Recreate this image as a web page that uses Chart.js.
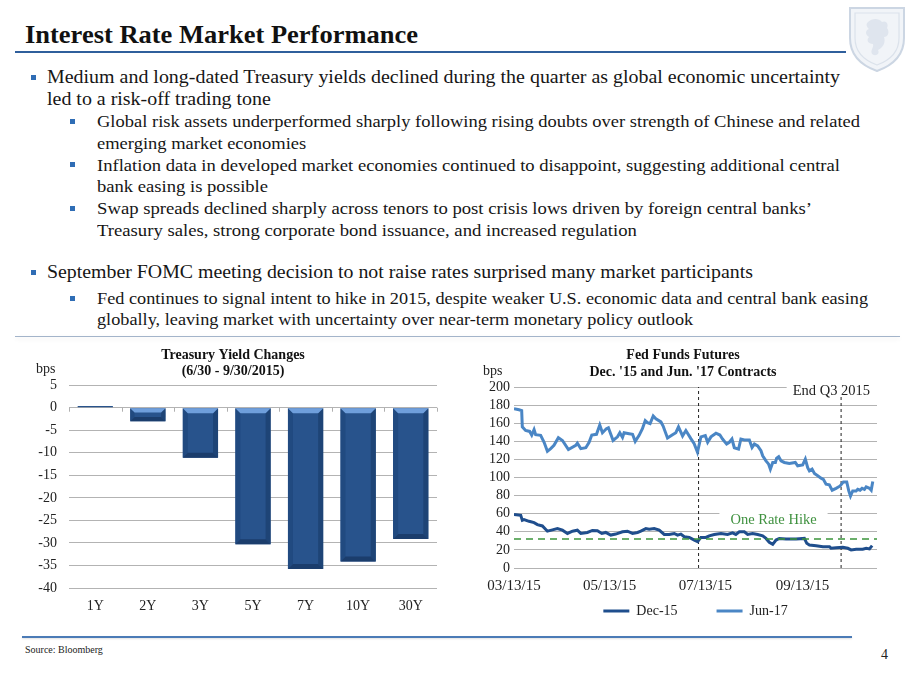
<!DOCTYPE html>
<html>
<head>
<meta charset="utf-8">
<script src="https://cdn.jsdelivr.net/npm/chart.js@4.4.0/dist/chart.umd.min.js"></script>
<style>
html,body{margin:0;padding:0;background:#fff;}
body{width:920px;height:690px;position:relative;overflow:hidden;font-family:"Liberation Serif","Times New Roman",serif;color:#161616;}
.ln{position:absolute;white-space:nowrap;transform-origin:0 50%;display:inline-block;}
.t{font-weight:bold;font-size:24.5px;line-height:30px;color:#111;}
.m{font-size:18.6px;line-height:22px;}
.s{font-size:17.4px;line-height:22px;}
.b{position:absolute;background:#2f6db5;width:5px;height:5px;}
#cL{position:absolute;left:0;top:340px;}
#cR{position:absolute;left:460px;top:340px;}
</style>
</head>
<body>
<div class="ln t" style="left:25px;top:19.7px" data-w="393" data-id="t">Interest Rate Market Performance</div>
<div style="position:absolute;left:15px;top:51px;width:831px;height:2px;background:#2f5f9c"></div>
<svg style="position:absolute;left:846px;top:4px" width="62" height="70" viewBox="0 0 62 70">
  <path d="M4 4 H58 V34 C58 52 45 62 31 67 C17 62 4 52 4 34 Z" fill="#f1f4f8" stroke="#ccd6e3" stroke-width="2"/>
  <path d="M9 9 H53 V34 C53 49 42 57 31 61 C20 57 9 49 9 34 Z" fill="none" stroke="#dbe2eb" stroke-width="1.2"/>
  <path d="M22 18 C26 14 33 14 36 18 C40 16 43 20 41 24 C44 28 42 33 38 33 C40 38 37 44 32 46 C34 50 30 53 26 50 C24 46 28 44 27 40 C22 40 20 36 23 33 C19 31 19 26 23 25 C20 22 20 20 22 18 Z" fill="#dfe5ee"/>
</svg>

<div class="b" style="left:31px;top:74.5px"></div>
<div class="ln m" style="left:47px;top:66px" data-w="793" data-id="m1">Medium and long-dated Treasury yields declined during the quarter as global economic uncertainty</div>
<div class="ln m" style="left:47px;top:87.5px" data-g="m1">led to a risk-off trading tone</div>

<div class="b" style="left:70px;top:118.5px"></div>
<div class="ln s" style="left:97px;top:110px" data-w="763" data-id="s1">Global risk assets underperformed sharply following rising doubts over strength of Chinese and related</div>
<div class="ln s" style="left:97px;top:131.5px" data-g="s1">emerging market economies</div>

<div class="b" style="left:70px;top:162px"></div>
<div class="ln s" style="left:97px;top:153.5px" data-w="743" data-id="s2">Inflation data in developed market economies continued to disappoint, suggesting additional central</div>
<div class="ln s" style="left:97px;top:175px" data-g="s2">bank easing is possible</div>

<div class="b" style="left:70px;top:205.5px"></div>
<div class="ln s" style="left:97px;top:197px" data-w="715" data-id="s3">Swap spreads declined sharply across tenors to post crisis lows driven by foreign central banks’</div>
<div class="ln s" style="left:97px;top:218.5px" data-g="s3">Treasury sales, strong corporate bond issuance, and increased regulation</div>

<div class="b" style="left:31px;top:269.5px"></div>
<div class="ln m" style="left:47px;top:261px" data-w="706" data-id="m2">September FOMC meeting decision to not raise rates surprised many market participants</div>

<div class="b" style="left:70px;top:295.5px"></div>
<div class="ln s" style="left:97px;top:286.5px" data-w="771" data-id="s4">Fed continues to signal intent to hike in 2015, despite weaker U.S. economic data and central bank easing</div>
<div class="ln s" style="left:97px;top:307.5px" data-g="s4">globally, leaving market with uncertainty over near-term monetary policy outlook</div>

<div style="position:absolute;left:15px;top:336px;width:885px;height:1px;background:#a3b4ca;box-shadow:0 2px 4px rgba(0,0,0,0.10)"></div>

<canvas id="cL" width="460" height="280"></canvas>
<canvas id="cR" width="460" height="288"></canvas>

<div style="position:absolute;left:22px;top:636px;width:830px;height:2px;background:#4b7bb6;box-shadow:0 1px 2px rgba(0,0,0,0.12)"></div>
<div class="ln" style="left:25px;top:644px;font-size:10px;line-height:12px;color:#222">Source: Bloomberg</div>
<div class="ln" style="left:881px;top:647px;font-size:14px;line-height:16px;color:#222">4</div>

<script>
// ---------- Treasury Yield Changes (6/30 - 9/30/2015), bps ----------
const treasuryTenors = ['1Y', '2Y', '3Y', '5Y', '7Y', '10Y', '30Y'];
const treasuryChangesBps = [0.4, -3.0, -11.1, -30.3, -35.8, -34.1, -29.1];

// ---------- Fed Funds Futures (day offset from 03/13/15, bps) ----------
const dec15Days = [0,4.3,5.3,6.4,9.6,12.8,14.9,18.1,21.3,24.5,27.7,30.9,34.1,37.3,40.4,42.6,46.8,50,53.2,56,58.5,61.7,64.9,69.2,72.4,75.6,78.8,80.9,84.1,86.2,89.4,92.6,95.8,99,102.2,104.3,106.4,108.6,111.8,115,117.1,119.2,122.4,124.5,127.7,132,136.2,139.4,141.5,143.7,146.9,149,152.2,155.4,158.6,160.7,162.8,165,167.1,169.2,173.5,179.9,185.2,186.7,188.4,192.7,197,201.2,202.2,205.4,209.7,212.9,215,218.2,222.4,224.6,226.7,228.4];
const dec15Bps = [59.3,58.2,52.7,53.5,51.6,50.2,48,46.5,40.7,42.2,43.6,41.8,38.2,40.7,41.8,38.2,39.3,41.5,41.1,38.2,39.3,36.4,37.5,40,40.7,38.2,39.3,40.7,43.6,42.9,43.6,41.8,37.1,37.1,38.2,36.4,37.5,34.5,33.8,30.9,29.1,33.8,33.8,35.6,37.1,38.2,37.1,38.9,37.1,40,40,37.1,38.2,37.1,35.6,32.7,28.4,26.2,30.9,32.7,32,32,32.7,27.3,25.5,24.7,23.6,23.6,21.8,22.5,22.9,21.8,20,20.7,20.7,21.8,21.1,24.7];

const jun17Days = [0,3.2,4.9,5.3,6.4,7.4,10,11.3,12.8,13.8,17,19.2,21.3,23.4,25.5,28.3,30.9,34.7,39.4,40.4,42.6,45.8,47.9,49.6,52.6,54.7,56.4,58.9,60.2,63.2,66,67.5,69.2,70.2,73.4,75.6,77.3,79.8,81.9,83.7,85.1,86.8,88.8,90.5,93.7,95.1,97.9,101.1,103.2,104.9,107.5,109.6,112.8,114.9,117,119.2,122,123.5,125.6,128.8,131.3,133,135.6,137.3,139,140.5,143.2,144.7,146.9,150.1,151.8,153.3,155.4,157.5,158.6,160.7,162.4,163.5,165,166.7,167.5,168.8,170.3,172.4,175.6,179.4,180.9,184.1,185.8,187.3,188.4,190.1,191.6,193.7,195.8,197.3,199,201.1,202.9,205.4,208,210.1,212.2,213.5,214.6,216,218.2,219.2,220.7,222,223.5,224.6,226.7,227.8,228.8];
const jun17Bps = [176,175,174,156,154,152,151,147,153,147.4,146.7,139,129,132,135.6,144,141,131,135.6,138,132,133,139,147,147.8,158,149.6,154,155,141,145,149.6,144.4,149.6,148.5,147.8,140,146.7,154,163,160.7,159.6,168,165,161.5,157,143.7,147.4,149.6,156,146,152,143,137.4,128,145,146.3,139,145,149,147,142.6,137,139,142.6,133,131.5,142.6,141.5,141.5,133.3,137,135,129.6,124,118.5,114.8,109.3,116.7,116.7,121.5,123,118.5,116.7,115.6,116.7,113,114,120.4,111,107.4,109.3,104.4,101.9,99.3,98,92.6,91.9,86,88.1,90.7,95.2,95.2,85.2,79.6,85.2,85.2,87,86,88.1,87,89.6,88.1,86,95.6];

const xTickDays = [0, 61, 122, 184];
const xTickLabels = ['03/13/15', '05/13/15', '07/13/15', '09/13/15'];
const oneRateHikeBps = 32;
const markerDays = [117.7, 208.6];     // dashed vertical markers
const markerTops = [200, 189];
const xDayMin = 0, xDayMax = 231.5;

// ---------- text fitting ----------
(function fit(){
  const g = {};
  document.querySelectorAll('.ln[data-w]').forEach(el => {
    const s = parseFloat(el.dataset.w) / el.getBoundingClientRect().width;
    g[el.dataset.id] = s; el.style.transform = 'scaleX(' + s + ')';
  });
  document.querySelectorAll('.ln[data-g]').forEach(el => {
    el.style.transform = 'scaleX(' + g[el.dataset.g] + ')';
  });
})();

Chart.defaults.font.family = "'Liberation Serif', 'Times New Roman', serif";
Chart.defaults.color = '#222';

const serif = "'Liberation Serif', 'Times New Roman', serif";

const bpsLabel = {
  id: 'bpsLabel',
  afterDraw(chart, args, opts) {
    const ctx = chart.ctx, a = chart.chartArea;
    ctx.save();
    ctx.font = '14px ' + serif; ctx.fillStyle = '#222';
    ctx.textAlign = 'left'; ctx.textBaseline = 'middle';
    ctx.fillText('bps', a.left + opts.dx, a.top + opts.dy);
    ctx.restore();
  }
};

const bevel = {
  id: 'bevel',
  afterDatasetsDraw(chart) {
    const ctx = chart.ctx;
    const meta = chart.getDatasetMeta(0);
    const poly = (pts, c) => { ctx.beginPath(); ctx.moveTo(pts[0][0], pts[0][1]); for (let i = 1; i < pts.length; i++) ctx.lineTo(pts[i][0], pts[i][1]); ctx.closePath(); ctx.fillStyle = c; ctx.fill(); };
    ctx.save();
    meta.data.forEach(bar => {
      const p = bar.getProps(['x', 'y', 'base', 'width'], true);
      const l = p.x - p.width / 2, r = p.x + p.width / 2;
      const t = Math.min(p.y, p.base), b = Math.max(p.y, p.base);
      const h = b - t;
      if (h < 6) return;
      const e = Math.min(5, h / 3);
      poly([[l, t], [l + e, t + e], [l + e, b - e], [l, b]], '#214a80');
      poly([[r, t], [r - e, t + e], [r - e, b - e], [r, b]], '#1e4476');
      poly([[l, b], [l + e, b - e], [r - e, b - e], [r, b]], '#1b3d6c');
      poly([[l, t], [r, t], [r - e, t + e], [l + e, t + e]], '#6f9fdc');
    });
    ctx.restore();
  }
};

const zeroTicks = {
  id: 'zeroTicks',
  afterDraw(chart) {
    const ctx = chart.ctx, a = chart.chartArea;
    const y0 = chart.scales.y.getPixelForValue(0);
    const n = treasuryTenors.length;
    ctx.save(); ctx.strokeStyle = '#b0b0b0'; ctx.lineWidth = 1;
    for (let i = 0; i <= n; i++) {
      const x = Math.round(a.left + (a.right - a.left) * i / n) + 0.5;
      ctx.beginPath(); ctx.moveTo(x, y0); ctx.lineTo(x, y0 + 4); ctx.stroke();
    }
    ctx.restore();
  }
};

new Chart(document.getElementById('cL'), {
  type: 'bar',
  data: {
    labels: treasuryTenors,
    datasets: [{ data: treasuryChangesBps, backgroundColor: '#28538c', barPercentage: 0.67, categoryPercentage: 1 }]
  },
  options: {
    responsive: false, animation: false,
    layout: { padding: { left: 29, right: 23, top: 0, bottom: 0 } },
    plugins: {
      legend: { display: false }, tooltip: { enabled: false },
      title: { display: true, text: ['Treasury Yield Changes', '(6/30 - 9/30/2015)'], color: '#111',
        font: { size: 14, weight: 'bold', lineHeight: 1.15 }, padding: { top: 7, bottom: 6 } },
      bpsLabel: { dx: -33, dy: -16 }
    },
    scales: {
      x: { grid: { display: false, drawTicks: false }, border: { display: false },
        ticks: { padding: 10, font: { size: 14 }, color: '#222' },
        afterFit(s) { s.height = 32; } },
      y: { min: -40, max: 5, ticks: { stepSize: 5, padding: 12, font: { size: 14 }, color: '#222', autoSkip: false },
        grid: { color: '#b3b3b3', drawTicks: false }, border: { display: false },
        afterFit(s) { s.width = 40; } }
    }
  },
  plugins: [bevel, bpsLabel, zeroTicks]
});

const labelBoxes = {
  id: 'labelBoxes',
  beforeDatasetsDraw(chart) {
    const ctx = chart.ctx, a = chart.chartArea, xs = chart.scales.x, ys = chart.scales.y;
    ctx.save();
    ctx.textBaseline = 'middle';
    // End Q3 2015
    ctx.font = '14.5px ' + serif;
    let txt = 'End Q3 2015';
    let w = ctx.measureText(txt).width;
    let tr = a.right - 7, ty = ys.getPixelForValue(195.5);
    ctx.fillStyle = '#fff';
    ctx.fillRect(tr - w - 6, ty - 11, a.right - (tr - w - 6) + 2, 20);
    ctx.fillStyle = '#222'; ctx.textAlign = 'right';
    ctx.fillText(txt, tr, ty);
    // One Rate Hike
    txt = 'One Rate Hike';
    w = ctx.measureText(txt).width;
    const cx = xs.getPixelForValue(165.5), cy = ys.getPixelForValue(53);
    ctx.fillStyle = '#fff';
    ctx.fillRect(cx - w / 2 - 11, cy - 10, w + 22, 19);
    ctx.fillStyle = '#3f913f'; ctx.textAlign = 'center';
    ctx.fillText(txt, cx, cy);
    ctx.restore();
  }
};

const pts = (xs, ys) => xs.map((d, i) => ({ x: d, y: ys[i] }));

new Chart(document.getElementById('cR'), {
  type: 'line',
  data: {
    datasets: [
      { label: 'Dec-15', data: pts(dec15Days, dec15Bps), borderColor: '#1f4e8d', backgroundColor: '#1f4e8d', borderWidth: 3, pointRadius: 0, tension: 0, order: 1 },
      { label: 'Jun-17', data: pts(jun17Days, jun17Bps), borderColor: '#4a86c5', backgroundColor: '#4a86c5', borderWidth: 3, pointRadius: 0, tension: 0, order: 2 },
      { label: 'One Rate Hike', data: [{ x: xDayMin, y: oneRateHikeBps }, { x: xDayMax, y: oneRateHikeBps }], borderColor: '#3b953b', borderWidth: 1.5, borderDash: [7, 5], pointRadius: 0, order: 0 },
      { label: 'm1', data: [{ x: markerDays[0], y: 0 }, { x: markerDays[0], y: markerTops[0] }], borderColor: '#222', borderWidth: 1, borderDash: [3, 3], pointRadius: 0, order: 3 },
      { label: 'm2', data: [{ x: markerDays[1], y: 0 }, { x: markerDays[1], y: markerTops[1] }], borderColor: '#222', borderWidth: 1, borderDash: [3, 3], pointRadius: 0, order: 3 }
    ]
  },
  options: {
    responsive: false, animation: false,
    layout: { padding: { left: 29, right: 43, top: 0, bottom: 0 } },
    plugins: {
      tooltip: { enabled: false },
      title: { display: true, text: ['Fed Funds Futures', "Dec. '15 and Jun. '17 Contracts"], color: '#111',
        font: { size: 14, weight: 'bold', lineHeight: 1.2 }, padding: { top: 7, bottom: 6.5 } },
      legend: { position: 'bottom', fullSize: false,
        labels: { usePointStyle: true, pointStyle: 'line', pointStyleWidth: 26, padding: 11, font: { size: 14 }, color: '#222',
          filter: (item) => item.datasetIndex < 2,
          generateLabels(chart) {
            const items = Chart.defaults.plugins.legend.labels.generateLabels(chart);
            items.forEach(it => { if (it.datasetIndex === 0) it.text = it.text + '\u2003\u2003'; });
            return items;
          } } },
      bpsLabel: { dx: -31, dy: -16 }
    },
    scales: {
      x: { type: 'linear', min: xDayMin, max: xDayMax,
        grid: { display: false, drawTicks: false }, border: { display: false },
        afterBuildTicks(s) { s.ticks = xTickDays.map(v => ({ value: v })); },
        ticks: { padding: 9, font: { size: 15 }, color: '#222', maxRotation: 0, autoSkip: false,
          callback: (v) => xTickLabels[xTickDays.indexOf(v)] },
        afterFit(s) { s.height = 25; } },
      y: { min: 0, max: 200, ticks: { stepSize: 20, padding: 4, font: { size: 14 }, color: '#222', autoSkip: false },
        grid: { color: '#b3b3b3', drawTicks: false }, border: { display: false },
        afterFit(s) { s.width = 25; } }
    }
  },
  plugins: [labelBoxes, bpsLabel]
});
</script>
</body>
</html>
